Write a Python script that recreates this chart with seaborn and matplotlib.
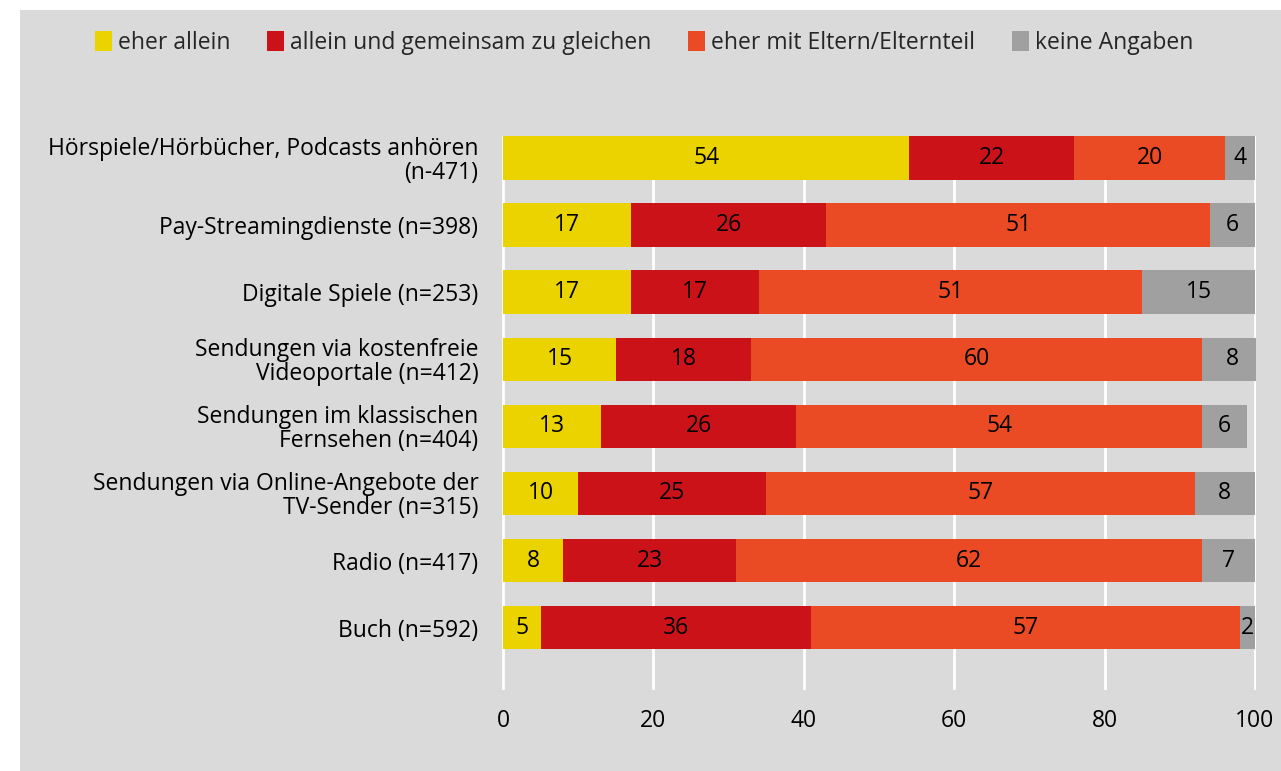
import pandas as pd
import numpy as np
import matplotlib.pyplot as plt
import seaborn as sns
from matplotlib.patches import Patch, Rectangle

# Data
categories = [
    'Hörspiele/Hörbücher, Podcasts anhören\n(n-471)',
    'Pay-Streamingdienste (n=398)',
    'Digitale Spiele (n=253)',
    'Sendungen via kostenfreie\nVideoportale (n=412)',
    'Sendungen im klassischen\nFernsehen (n=404)',
    'Sendungen via Online-Angebote der\nTV-Sender (n=315)',
    'Radio (n=417)',
    'Buch (n=592)',
]
allein = [54, 17, 17, 15, 13, 10, 8, 5]
gleich = [22, 26, 17, 18, 26, 25, 23, 36]
eltern = [20, 51, 51, 60, 54, 57, 62, 57]
keine = [4, 6, 15, 8, 6, 8, 7, 2]
series_names = ['eher allein', 'allein und gemeinsam zu gleichen',
                'eher mit Eltern/Elternteil', 'keine Angaben']
colors = ['#ebd300', '#cc1219', '#ea4a24', '#a0a0a0']
bg = '#d9dad9'

df = pd.DataFrame({'cat': categories, 'a': allein, 'b': gleich, 'c': eltern, 'd': keine})
cols = ['a', 'b', 'c', 'd']
cum = df[cols].cumsum(axis=1)

sns.set_style('white')
plt.rcParams['font.family'] = ['Open Sans', 'DejaVu Sans']
fs = 16.5

fig = plt.figure(figsize=(12.81, 7.71), dpi=100, facecolor='white')
fig.patches.append(Rectangle((20 / 1281, 0), 1, 1 - 10 / 771, transform=fig.transFigure,
                             facecolor=bg, edgecolor='none', zorder=-5))
ax = fig.add_axes([502 / 1281, 1 - 690 / 771, (1256 - 502) / 1281, (690 - 136) / 771])
ax.set_facecolor(bg)

# stacked bars: draw cumulative totals from the widest down
for i in range(3, -1, -1):
    sns.barplot(x=cum[cols[i]], y=df['cat'], order=categories, orient='h',
                color=colors[i], width=0.65, ax=ax, zorder=2, saturation=1,
                linewidth=0, edgecolor='none')

# segment labels
for r in range(len(df)):
    start = 0
    for c in cols:
        v = df.loc[r, c]
        ax.text(start + v / 2, r, str(v), ha='center', va='center', fontsize=fs,
                color='black', zorder=3)
        start += v

ax.set_xlim(-0.15, 100.15)
ax.set_ylim(7.93, -0.33)
ax.set_xticks([0, 20, 40, 60, 80, 100])
ax.grid(axis='x', color='white', lw=2, zorder=1)
ax.set_axisbelow(True)
for s in ax.spines.values():
    s.set_visible(False)
ax.set_xlabel('')
ax.set_ylabel('')
ax.tick_params(axis='both', length=0, labelsize=fs, colors='black')
ax.tick_params(axis='y', pad=17)
ax.tick_params(axis='x', pad=14)
for lbl in ax.get_yticklabels():
    lbl.set_multialignment('right')
    lbl.set_linespacing(1.0)

handles = [Patch(facecolor=c, edgecolor='none') for c in colors]
fig.legend(handles, series_names, loc='center', bbox_to_anchor=(644 / 1281, 1 - 43 / 771),
           ncol=4, frameon=False, fontsize=fs, handlelength=0.75, handleheight=1.0,
           handletextpad=0.25, columnspacing=1.6)

fig.savefig('out.png', dpi=100, facecolor='white')
